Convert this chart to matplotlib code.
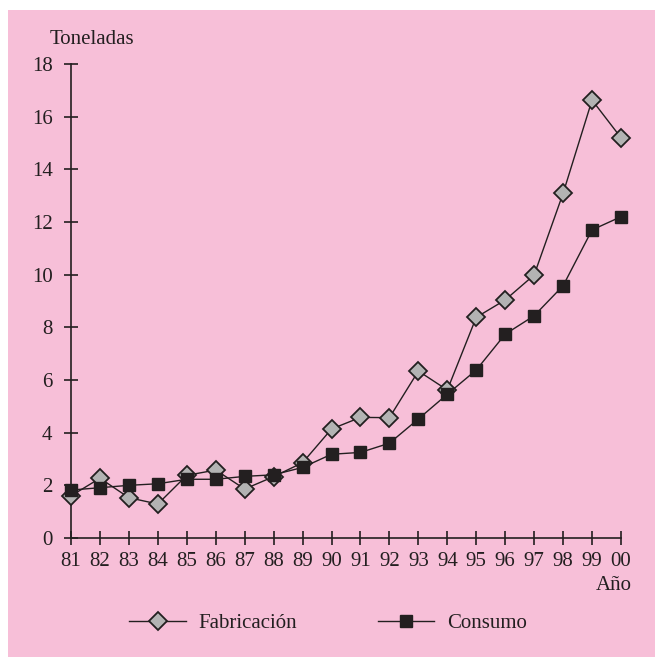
import matplotlib.pyplot as plt

# datos: toneladas por año
years = ['81', '82', '83', '84', '85', '86', '87', '88', '89', '90',
         '91', '92', '93', '94', '95', '96', '97', '98', '99', '00']
fabricacion = [1.6, 2.27, 1.53, 1.29, 2.38, 2.58, 1.86, 2.33, 2.86, 4.14,
               4.58, 4.57, 6.34, 5.62, 8.38, 9.04, 9.99, 13.09, 16.63, 15.2]
consumo = [1.82, 1.91, 2.0, 2.06, 2.23, 2.23, 2.34, 2.4, 2.68, 3.18,
           3.25, 3.6, 4.52, 5.46, 6.38, 7.74, 8.44, 9.58, 11.7, 12.2]
y_ticks = [0, 2, 4, 6, 8, 10, 12, 14, 16, 18]

PINK = '#f7bfd8'
DARK = '#231f20'
FS = 15

plt.rcParams['font.family'] = ['Liberation Serif', 'DejaVu Serif']
plt.rcParams['font.size'] = FS

W, H = 655, 657
fig = plt.figure(figsize=(W / 100, H / 100), dpi=100)
fig.patch.set_facecolor('white')
# pink panel with small white margin at top/left
fig.patches.append(plt.Rectangle((8 / W, 0), 1, 1 - 10 / H, transform=fig.transFigure,
                                 facecolor=PINK, edgecolor='none', zorder=-5))

ax = fig.add_axes([71 / W, (H - 538) / H, (621 - 71) / W, (538 - 64) / H])
ax.set_facecolor('none')

x = list(range(len(years)))
ax.plot(x, fabricacion, color=DARK, lw=1.0, marker='D', markersize=9,
        markerfacecolor='#b3b3b3', markeredgecolor=DARK, markeredgewidth=1.3,
        label='Fabricación', zorder=3, clip_on=False)
ax.plot(x, consumo, color=DARK, lw=1.0, marker='s', markersize=9,
        markerfacecolor=DARK, markeredgecolor=DARK, label='Consumo', zorder=4,
        clip_on=False)

ax.set_xlim(0, len(years) - 1)
ax.set_ylim(0, 18)
ax.set_xticks(x)
ax.set_xticklabels(years)
ax.set_yticks(y_ticks)

for s in ['top', 'right']:
    ax.spines[s].set_visible(False)
for s in ['left', 'bottom']:
    ax.spines[s].set_color(DARK)
    ax.spines[s].set_linewidth(1.2)
ax.tick_params(direction='inout', length=10.5, width=1.2, color=DARK,
               labelcolor=DARK, labelsize=FS)
ax.tick_params(axis='y', pad=8)
ax.tick_params(axis='x', pad=5)

fig.text(50 / W, 1 - 40 / H, 'Toneladas', ha='left', va='center', color=DARK, fontsize=FS)
fig.text(632 / W, 1 - 585 / H, 'Año', ha='right', va='center', color=DARK, fontsize=FS)

fig.legend(loc='center', bbox_to_anchor=(328 / W, 1 - 623 / H), ncol=2, frameon=False,
           handlelength=2.7, handletextpad=0.6, columnspacing=3.9, fontsize=FS,
           labelcolor=DARK)

fig.savefig('out.png', dpi=100)
